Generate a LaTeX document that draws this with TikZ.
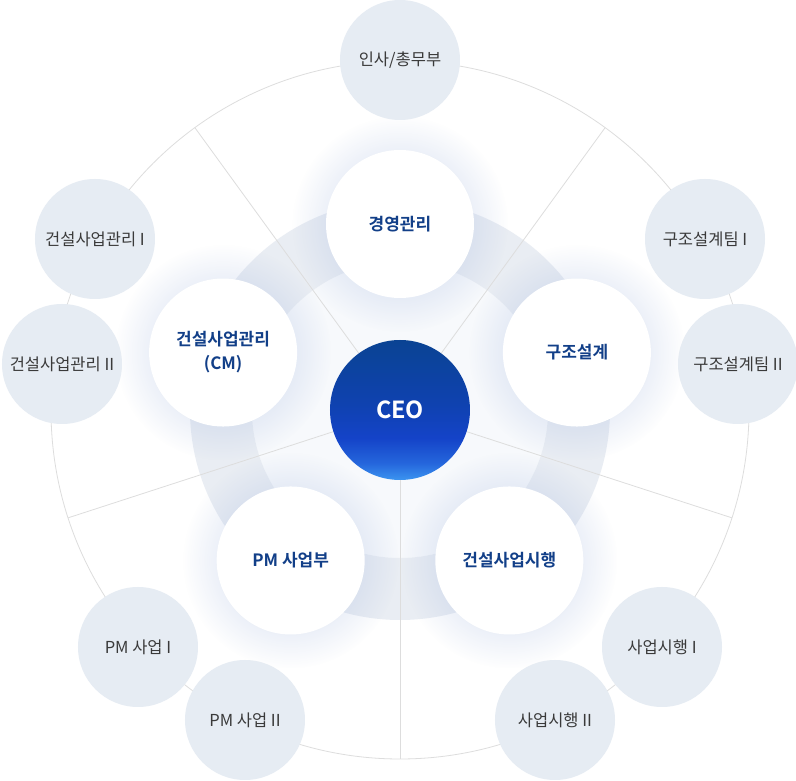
\documentclass[tikz,border=0pt]{standalone}
\usepackage{fontspec}
\setmainfont{Noto Sans CJK KR}[BoldFont={Noto Sans CJK KR Bold}]
\usetikzlibrary{backgrounds,fadings}

\definecolor{bandc}{HTML}{E9EDF3}
\definecolor{corec}{HTML}{F7F9FC}
\definecolor{glowc}{HTML}{9FB4DE}
\definecolor{teamfill}{HTML}{E6ECF3}
\definecolor{teamtext}{HTML}{3A3A3A}
\definecolor{divtext}{HTML}{123F88}
\definecolor{linec}{HTML}{DDDDDD}
\definecolor{ceotop}{HTML}{0A4393}
\definecolor{ceomid}{HTML}{0F42B0}
\definecolor{ceobright}{HTML}{1443C8}
\definecolor{ceoblue}{HTML}{2566DC}
\definecolor{ceolight}{HTML}{3B94F0}
\pgfdeclareverticalshading{ceograd}{100bp}{color(0bp)=(ceolight); color(25bp)=(ceolight);
  color(31bp)=(ceoblue); color(40bp)=(ceobright); color(52bp)=(ceomid); color(75bp)=(ceotop);
  color(100bp)=(ceotop)}
\tikzfading[name=glowfade,inner color=transparent!40,outer color=transparent!100]
\tikzfading[name=bandfade,inner color=transparent!0,outer color=transparent!100]

\begin{document}
\begin{tikzpicture}[x=1pt,y=1pt,
    team/.style={circle,fill=teamfill,minimum size=120pt,inner sep=0pt,
      text=teamtext,font=\fontsize{16.5}{20}\selectfont},
    division/.style={circle,fill=white,minimum size=148pt,inner sep=0pt,align=center,
      text=divtext,font=\bfseries\fontsize{17}{24}\selectfont},
    chief/.style={circle,shading=ceograd,minimum size=140pt,inner sep=0pt,
      text=white,font=\bfseries\fontsize{23.5}{28}\selectfont},
    divider/.style={draw=linec,line width=0.8pt}]
    \useasboundingbox (-400,-371) rectangle (396,410);

    % center and divisions
    \node[chief] (ceo) at (0,0) {CEO};
    \node[division] (mgmt) at (90:186) {경영관리};
    \node[division] (struct) at (18:186) {구조설계};
    \node[division] (exec) at (-54:186) {건설사업시행};
    \node[division] (pm) at (-126:186) {PM 사업부};
    \node[division] (cm) at (162:186) {건설사업관리\\(CM)};

    % teams on the rim
    \node[team] (hr) at (0,350) {인사/총무부};
    \node[team] (st1) at (305,171) {구조설계팀 I};
    \node[team] (st2) at (338,46) {구조설계팀 II};
    \node[team] (ex1) at (262,-237) {사업시행 I};
    \node[team] (ex2) at (155,-310) {사업시행 II};
    \node[team] (pm1) at (-262,-237) {PM 사업 I};
    \node[team] (pm2) at (-155,-310) {PM 사업 II};
    \node[team] (cm1) at (-305,171) {건설사업관리 I};
    \node[team] (cm2) at (-338,46) {건설사업관리 II};

    \begin{scope}[on background layer]
        \fill[white] (-400,-371) rectangle (396,410);
        \fill[corec] (ceo.center) circle [radius=148];
        \fill[bandc,even odd rule] (ceo.center) circle [radius=210] circle [radius=148];
        % soft glow under the divisions
        \foreach \n in {mgmt,struct,exec,pm,cm}
            \fill[glowc,path fading=glowfade] (\n.center) circle [radius=108];
        \draw[divider] (ceo.center) circle [radius=349];
        \foreach \a/\i in {126/1,54/2,-18/3,-90/4,198/5} {
            \coordinate (rim\i) at (\a:349);
            \draw[divider] (ceo.center) -- (rim\i);
        }
    \end{scope}
\end{tikzpicture}
\end{document}
